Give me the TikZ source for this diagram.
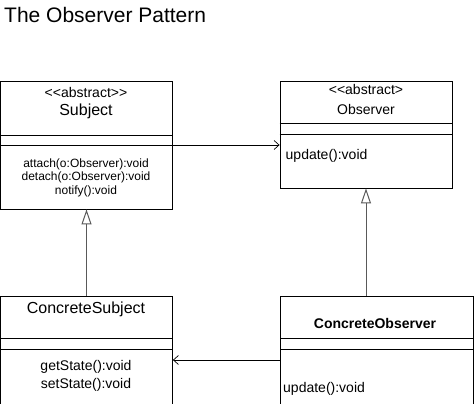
\documentclass[tikz,border=0pt]{standalone}
\usepackage{fontspec}
\setmainfont{Liberation Sans}
\usetikzlibrary{arrows.meta}
\newcommand{\stereo}[1]{<\kern0pt<#1}
\tikzset{
  classbox/.style={draw, line width=0.8pt, minimum width=172pt, inner sep=0pt},
  txt/.style={inner sep=0pt, anchor=base},
  uses/.style={-{Straight Barb[length=5pt,width=9pt]}, line width=0.7pt},
  inherit/.style={-{Triangle[open,length=15pt,width=10pt]}, line width=1pt, draw=black!65},
}
\begin{document}
\begin{tikzpicture}[x=1pt,y=-1pt]
\useasboundingbox (0,0) rectangle (474,404);
\node[txt, anchor=base west, font=\fontsize{21}{21}\selectfont] (title) at (4,23) {The Observer Pattern};
% class boxes
\node[classbox, minimum height=128pt] (subject) at (86.5,145) {};
\node[classbox, minimum height=107pt] (observer) at (366,134.5) {};
\node[classbox, minimum height=128pt] (csubject) at (86.5,360) {};
\node[classbox, minimum width=193pt, minimum height=128pt] (cobserver) at (377,360) {};
\foreach \b/\ya/\yb in {subject/135/145, observer/123/134, csubject/338/349, cobserver/338/349}
{
    \draw[line width=0.8pt] (\b.west |- 0,\ya) -- (\b.east |- 0,\ya)
        (\b.west |- 0,\yb) -- (\b.east |- 0,\yb);
}
% texts
\node[txt, font=\fontsize{14}{14}\selectfont] (subjst) at (86,97) {\stereo{abstract}>\kern0pt>};
\node[txt, font=\fontsize{16}{16}\selectfont] (subjname) at (86,115) {Subject};
\node[txt, font=\fontsize{12}{12}\selectfont] (attach) at (86,167) {attach(o:Observer):void};
\node[txt, font=\fontsize{12}{12}\selectfont] (detach) at (86,180.5) {detach(o:Observer):void};
\node[txt, font=\fontsize{12}{12}\selectfont] (notify) at (86,194) {notify():void};
\node[txt, font=\fontsize{14}{14}\selectfont] (obsst) at (366,95) {\stereo{abstract}>};
\node[txt, font=\fontsize{14}{14}\selectfont] (obsname) at (366,114) {Observer};
\node[txt, anchor=base west, font=\fontsize{14}{14}\selectfont] (obsupd) at (285.5,159) {update():void};
\node[txt, font=\fontsize{16}{16}\selectfont] (csubjname) at (86,313) {ConcreteSubject};
\node[txt, font=\fontsize{14}{14}\selectfont] (getstate) at (86,370) {getState():void};
\node[txt, font=\fontsize{14}{14}\selectfont] (setstate) at (86,388) {setState():void};
\node[txt, font=\fontsize{14}{14}\selectfont\bfseries] (cobsname) at (375,328) {ConcreteObserver};
\node[txt, anchor=base west, font=\fontsize{14}{14}\selectfont] (cobsupd) at (283,392) {update():void};
% connectors
\draw[uses] (subject.east) -- (observer.west |- subject.east);
\draw[uses] (cobserver.west) -- (csubject.east);
\draw[inherit] (csubject.north) -- (subject.south);
\draw[inherit] (observer.south |- cobserver.north) -- (observer.south);
\end{tikzpicture}
\end{document}
